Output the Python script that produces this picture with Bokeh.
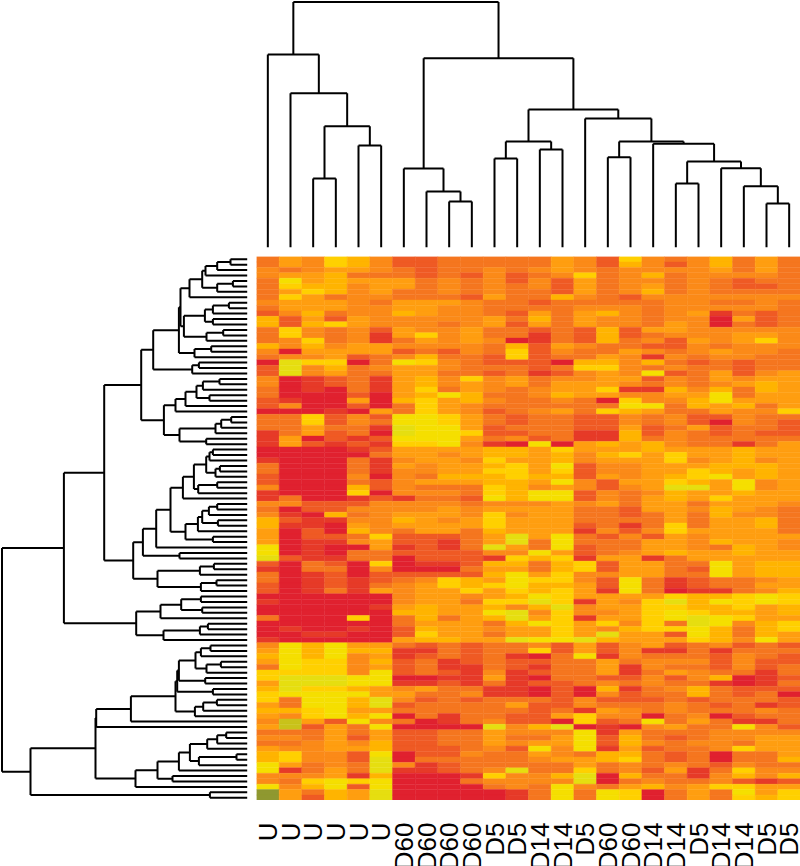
from math import pi
from bokeh.embed import file_html
from bokeh.resources import INLINE
from bokeh.plotting import figure
from bokeh.layouts import column, row
from bokeh.core.properties import value
from bokeh.models import Range1d, LinearColorMapper, ColumnDataSource, Spacer

COL_LABELS = ["U","U","U","U","U","U","D60","D60","D60","D60","D5","D5","D14","D14","D5","D60","D60","D14","D14","D5","D14","D14","D5","D5"]
LEVEL_COLORS = ["#E0212F","#E63A28","#EF5A24","#F5761F","#FB8A18","#FF9E10","#FFB400","#FFD000","#F5DF00","#E6DE10","#C9C21A","#8F9830"]

HEAT_1 = [
[3,5,4,7,6,4,2,2,3,3,3,3,3,5,4,2,7,4,3,4,6,3,5,3],
[3,5,4,7,6,4,2,2,3,3,3,3,3,5,4,2,6,4,2,4,6,3,5,3],
[4,3,4,5,5,4,3,2,3,3,4,3,4,5,4,3,4,4,4,4,5,3,5,3],
[4,5,5,6,3,3,3,2,3,2,4,2,3,4,7,3,4,6,3,4,4,4,4,3],
[3,8,5,6,5,5,5,3,4,3,4,2,4,2,5,3,4,4,3,4,3,2,3,3],
[3,7,6,6,4,5,5,3,4,3,4,3,4,2,5,3,4,5,3,4,3,2,2,3],
[3,5,7,6,4,5,3,3,4,3,4,3,3,2,5,3,4,6,3,4,3,3,3,3],
[3,7,5,3,4,4,3,3,3,2,5,3,3,6,4,3,2,4,4,4,4,4,4,4],
[4,5,5,5,4,3,5,5,5,4,3,3,2,3,3,3,3,3,4,4,3,3,4,3],
[3,5,5,5,4,4,5,5,4,4,3,3,3,3,4,4,4,3,4,4,4,4,4,3],
[2,4,6,3,4,4,6,5,4,4,3,2,5,3,5,6,4,3,4,5,1,3,2,3],
[6,2,5,2,5,4,4,4,4,4,5,3,6,3,5,4,4,3,4,4,0,5,2,3],
[6,2,6,7,5,4,4,4,3,4,5,2,5,3,5,4,4,3,5,4,0,3,2,3],
[3,7,4,3,4,2,5,4,4,5,3,3,2,3,2,6,2,5,5,4,4,4,4,4],
[3,7,4,3,4,1,5,7,4,5,3,3,1,3,2,6,2,3,4,4,4,5,5,4],
[3,4,7,3,4,1,3,5,4,5,4,0,1,3,2,6,3,4,2,5,4,5,7,4],
[6,4,6,4,5,5,4,4,4,4,3,6,2,5,4,3,3,2,2,4,3,4,4,4],
[4,0,5,5,5,5,2,3,2,4,3,7,2,4,3,3,5,4,3,4,5,4,4,3],
[3,4,4,5,2,3,4,6,3,3,2,7,2,3,3,5,4,1,4,3,4,4,3,3],
[0,9,7,7,0,3,8,7,4,3,2,2,2,0,6,6,4,6,3,2,3,2,3,3],
[2,9,4,6,3,4,5,5,4,3,3,3,2,3,7,7,4,3,4,3,3,2,3,3],
[2,9,4,5,3,3,5,5,3,3,2,3,1,2,4,5,4,8,2,3,5,2,4,5],
[4,0,1,2,3,1,5,6,4,7,4,5,3,4,4,5,5,2,4,3,5,4,5,5],
[4,0,1,2,3,1,5,6,4,5,4,5,3,5,5,5,4,3,4,3,4,5,6,5],
[3,0,1,0,3,1,5,7,3,5,4,3,4,5,5,7,1,1,6,4,6,3,6,5],
]
HEAT_2 = [
[3,0,0,0,2,0,5,6,8,6,3,3,4,6,5,5,4,4,5,5,8,3,5,5],
[2,1,0,0,5,0,6,7,5,6,4,3,3,4,3,0,7,4,4,6,8,5,5,5],
[2,4,0,0,2,0,3,7,5,4,3,3,3,3,3,3,8,8,3,6,5,6,3,5],
[0,0,0,1,0,5,3,7,5,4,2,3,4,5,3,7,6,5,3,3,5,4,4,7],
[3,3,7,2,4,2,8,8,7,5,3,2,3,3,2,2,4,3,4,2,2,4,3,3],
[3,3,7,2,4,3,8,8,7,5,3,2,3,3,2,2,4,3,4,2,0,4,3,2],
[3,3,5,3,3,1,9,8,8,5,2,3,3,3,2,2,5,2,3,5,2,3,3,2],
[1,3,5,2,3,0,9,8,8,7,2,2,3,3,1,1,6,2,4,3,2,3,2,2],
[1,5,0,2,1,2,8,8,8,5,3,4,2,3,1,1,6,3,4,3,3,3,3,3],
[1,5,2,1,2,1,7,7,8,4,1,0,8,0,5,6,5,6,4,3,3,1,3,5],
[0,0,0,0,1,2,5,5,5,5,6,6,5,7,5,5,5,6,5,5,5,6,5,5],
[0,0,0,0,0,3,5,5,4,5,6,6,5,6,4,6,7,5,7,5,5,6,5,5],
[1,0,0,0,3,1,4,5,5,4,7,5,5,6,4,5,5,5,7,4,5,6,4,5],
[3,0,0,0,3,1,5,4,5,5,6,7,5,8,2,4,4,5,5,5,6,6,6,5],
[3,0,0,0,3,1,4,4,5,5,7,7,5,7,2,4,4,5,5,7,6,5,6,5],
[2,0,0,0,4,0,4,3,6,6,6,7,6,6,2,5,4,5,6,7,8,5,6,5],
[2,0,0,0,3,2,4,5,5,5,6,6,5,8,4,2,5,5,7,6,5,8,4,5],
[4,0,0,0,6,2,4,3,3,3,7,6,4,5,4,2,4,5,9,9,5,8,4,5],
[1,0,0,0,7,0,4,4,4,3,7,6,8,8,2,4,3,4,6,5,5,6,5,5],
[1,3,0,0,1,2,1,3,3,2,8,6,8,8,2,4,3,5,6,5,7,5,5,5],
[4,4,2,2,2,4,4,4,4,3,4,4,4,5,4,5,3,5,5,3,5,5,5,4],
[3,0,2,2,4,4,4,4,5,4,5,5,5,5,3,3,2,5,5,4,6,5,4,3],
[4,1,0,6,3,4,5,5,5,4,7,4,5,5,3,3,2,3,5,3,6,4,4,3],
[6,2,1,1,4,4,6,5,4,5,7,5,5,5,3,3,3,3,5,3,5,5,6,3],
[6,1,1,0,5,4,5,5,5,5,7,5,5,5,2,3,1,3,7,3,5,5,6,3],
]
HEAT_3 = [
[5,0,2,0,6,4,3,5,5,3,6,5,5,5,1,4,2,4,7,5,5,5,5,3],
[5,0,2,2,3,7,2,2,2,3,5,9,5,8,3,2,4,2,5,4,5,5,5,5],
[5,0,1,1,4,5,2,2,1,3,5,9,3,8,3,3,3,5,5,4,6,5,5,4],
[8,0,1,0,0,5,1,2,1,3,9,5,3,8,2,3,3,5,5,4,3,6,5,4],
[8,0,1,0,3,3,2,2,2,2,4,4,8,5,2,3,4,5,6,5,5,6,5,5],
[9,2,1,1,3,3,0,2,2,2,1,7,6,7,1,5,5,1,3,5,5,5,5,5],
[2,0,3,2,0,7,0,1,1,2,6,6,3,6,7,2,5,5,3,3,8,5,6,6],
[1,0,3,3,0,4,0,0,0,3,5,5,3,6,7,2,5,5,3,2,8,5,6,6],
[3,0,1,2,0,2,2,2,2,2,6,8,5,7,4,4,5,5,3,3,8,5,6,6],
[3,0,1,2,1,2,3,4,7,6,5,8,7,7,4,2,8,3,1,2,3,3,4,5],
[2,0,1,2,1,3,4,5,7,6,7,8,6,6,5,2,8,3,1,2,3,3,5,5],
[2,0,1,3,1,5,4,5,5,7,5,7,6,7,5,1,8,3,0,1,1,3,4,6],
[0,0,0,0,0,0,4,5,5,4,5,6,8,7,5,5,5,5,7,6,6,7,8,7],
[1,0,0,0,0,0,4,5,5,3,7,7,9,7,1,5,4,7,9,6,8,7,8,7],
[0,0,0,0,0,1,5,6,5,5,6,4,6,9,4,5,5,7,7,6,6,7,5,6],
[0,0,0,0,0,0,6,6,5,5,8,9,4,7,4,4,5,7,8,7,6,6,5,6],
[3,0,0,0,7,0,3,6,3,5,6,9,5,7,1,5,5,7,8,9,8,7,5,5],
[0,0,0,0,0,0,3,5,5,5,3,6,8,7,5,7,4,7,3,9,8,4,6,7],
[0,1,0,0,1,0,2,6,5,5,4,5,5,7,5,4,6,7,7,8,6,3,6,7],
[0,0,1,1,0,0,2,7,5,5,3,5,5,7,5,9,5,5,2,8,6,3,6,5],
[1,0,0,0,0,0,5,6,6,5,5,9,8,8,9,6,5,5,5,7,6,4,8,5],
[4,8,6,8,5,5,3,2,3,2,3,3,4,2,5,2,4,5,2,3,4,2,3,2],
[5,8,6,8,6,6,1,1,3,2,3,3,7,2,5,2,4,1,1,3,1,3,3,3],
[6,8,6,8,4,5,1,2,3,2,3,1,0,3,8,1,4,3,3,3,2,4,3,2],
[5,8,7,7,4,6,2,3,1,2,3,2,2,3,3,5,3,4,4,4,2,4,2,2],
]
HEAT_4 = [
[3,8,7,7,4,5,2,3,1,1,3,2,1,3,3,5,1,4,3,3,2,4,2,3],
[7,7,7,7,4,8,2,3,2,1,4,1,2,3,3,5,1,3,5,4,3,3,1,3],
[7,9,9,9,8,8,0,0,1,1,5,1,0,3,3,2,2,4,2,4,6,0,1,2],
[5,9,9,9,8,8,1,1,2,1,3,1,2,2,3,4,3,4,3,3,1,0,1,3],
[6,9,7,7,6,5,4,5,3,3,1,1,0,2,0,6,1,3,4,6,3,2,2,2],
[7,8,8,8,8,5,5,3,3,4,1,1,0,2,0,4,2,3,3,6,3,2,3,0],
[7,3,8,8,6,9,4,2,3,2,3,3,3,2,4,2,2,2,3,2,3,3,3,2],
[5,3,8,8,6,9,2,3,3,3,3,5,2,2,4,3,3,3,4,3,2,3,1,2],
[6,6,7,8,5,5,3,3,3,3,3,3,2,3,1,5,4,3,4,3,3,3,4,3],
[5,4,7,8,6,8,0,3,1,3,3,2,2,5,7,4,4,0,3,4,0,2,3,3],
[4,10,5,2,8,4,3,0,1,3,4,2,2,0,7,2,3,8,3,5,3,1,1,3],
[5,10,2,5,3,8,0,0,0,0,9,4,6,9,0,1,0,4,5,3,3,8,4,2],
[3,3,3,5,3,5,2,2,3,3,5,4,4,4,8,1,5,3,3,3,4,4,4,4],
[4,4,3,5,2,5,2,2,3,3,5,3,3,5,8,2,6,3,2,3,4,4,5,5],
[3,3,4,5,4,6,2,2,3,3,5,4,5,5,8,2,6,4,3,4,4,3,5,5],
[5,4,4,5,5,6,2,2,2,3,4,2,8,4,8,1,5,2,3,3,4,7,5,5],
[6,7,4,4,2,8,0,2,2,4,3,3,5,4,3,6,6,3,2,3,0,3,3,5],
[6,7,4,4,2,9,0,3,3,3,3,3,4,5,5,6,7,3,2,3,0,3,3,6],
[8,5,3,4,3,9,4,1,2,3,3,3,3,3,5,3,4,3,4,3,2,4,3,3],
[8,1,3,5,3,9,1,1,2,3,4,9,3,3,7,3,4,2,5,1,3,7,4,4],
[4,4,4,5,1,6,0,0,0,1,7,4,4,6,9,0,6,3,3,1,4,6,4,6],
[4,3,7,8,7,8,0,0,0,3,4,4,4,4,9,0,3,4,3,3,4,2,1,2],
[8,4,6,8,2,8,0,0,0,0,3,4,3,8,4,3,5,6,4,5,7,7,5,5],
[11,5,3,6,5,9,0,0,0,0,0,1,3,8,3,8,7,0,3,5,3,8,5,7],
[11,5,2,6,5,9,0,0,0,0,0,1,3,8,3,8,7,0,3,5,3,7,6,7],
]

# Dendrograms: (node, child, child, height); integer children are leaves.
COL_MERGES = [
("c1",2,3,68.7),("c2",4,5,101.7),("c3","c1","c2",121),("c4",1,"c3",154),("c5",0,"c4",192.7),
("c6",8,9,45.7),("c7",7,"c6",55.7),("c8",6,"c7",78.7),
("c9",10,11,88.7),("c10",12,13,97.7),("c11","c9","c10",105.7),
("c12",15,16,90),("c13",18,19,63.7),("c14",22,23,43.7),("c15",21,"c14",61),("c16",20,"c15",79),
("c17","c13","c16",85.7),("c18",17,"c17",103.4),("c19","c12","c18",105.7),("c20",14,"c19",128.7),
("c21","c11","c20",137.7),("c22","c8","c21",189),("c23","c5","c22",245.2),
]
ROW_MERGES = [
("r1",0,1,16.7),("r2","r1",2,30),("r3","r2",3,41.7),("r4",4,5,14.3),("r5","r4",6,30),("r6","r3","r5",45),("r7","r6",7,57.7),
("r8",8,9,18.3),("r9","r8",10,34.3),("r10",11,12,34.3),("r11","r9","r10",42.3),("r12",13,14,24),("r13","r12",15,40.7),("r14","r11","r13",63.3),
("r15","r7","r14",66.7),("r16",16,17,36),("r17","r16",18,52.7),("r18","r15","r17",68.3),
("r19",19,20,48.3),("r20","r19",21,55),("r21","r18","r20",94),
("r22",22,23,27.7),("r23","r22",24,44.3),("r24",25,26,37.7),("r25","r23","r24",50.7),("r26","r25",27,61.7),("r27","r26",28,71.7),
("r28",29,30,16),("r29","r28",31,26),("r30","r29",32,31.7),("r31",33,34,41),("r32","r30","r31",67.7),("r33","r27","r32",83.3),
("r34","r21","r33",106),
("r35",35,36,34.3),("r36","r35",37,37.7),("r37",38,39,27.3),("r38","r37",40,31.7),("r39","r36","r38",41),("r40",41,42,30),("r41","r40",43,49),
("r42","r39","r41",53.3),("r43","r42",44,64.3),
("r44",45,46,30),("r45","r44",47,38.3),("r46",48,49,29.3),("r47","r45","r46",45),("r48","r47",50,49.3),("r49",51,52,34.3),("r50","r48","r49",61.7),
("r51","r43","r50",76.7),("r52","r51",53,91),("r53",54,55,67.7),("r54","r52","r53",104.3),
("r55",56,57,33.3),("r56","r55",58,47.3),("r57",59,60,30.7),("r58","r57",61,46.3),("r59","r56","r58",89.7),("r60","r54","r59",114),
("r61","r34","r60",143),
("r62",62,63,46.3),("r63",64,65,45),("r64","r62","r63",66),("r65","r64",66,86.7),("r66",67,68,39.3),("r67","r66",69,47.3),("r68","r67",70,83.7),("r69","r65","r68",111),
("r70","r61","r69",183.3),
("r71",71,72,36.7),("r72","r71",73,46.3),("r73",74,75,26.3),("r74","r73",76,40.7),("r75","r72","r74",51.7),("r76",77,78,42),("r77","r75","r76",68.3),
("r78",79,80,34.3),("r79","r77","r78",70),("r80",81,82,30.3),("r81","r80",83,44),("r82","r81",84,52.3),("r83","r79","r82",71.7),("r84","r83",85,116.3),("r85","r84",86,151),
("r86",87,88,21),("r87","r86",89,30),("r88","r87",90,40),("r89",91,92,10.7),("r90","r89",93,48.3),("r91","r88","r90",57.3),("r92","r91",94,68.3),("r93",95,96,74.7),("r94","r92","r93",89.7),("r95","r94",97,111.7),
("r96","r85","r95",151.7),("r97",98,99,37.3),("r98","r96","r97",216.7),("r99","r70","r98",245.2),
]

def tree_segments(merges):
    pos, h = {}, {}
    a0, a1, h0, h1 = [], [], [], []
    def place(c):
        if isinstance(c, int):
            return c + 0.5, 0.0
        return pos[c], h[c]
    for name, l, r, height in merges:
        pl, hl = place(l)
        pr, hr = place(r)
        pos[name] = (pl + pr) / 2
        h[name] = height
        a0 += [pl, pl, pr]
        a1 += [pl, pr, pr]
        h0 += [hl, height, hr]
        h1 += [height, height, height]
    return a0, a1, h0, h1

HEAT = HEAT_1 + HEAT_2 + HEAT_3 + HEAT_4
n_rows, n_cols = len(HEAT), len(COL_LABELS)

lv, left_e, right_e, top_e, bot_e = [], [], [], [], []
for i, vals in enumerate(HEAT):
    for j, v in enumerate(vals):
        lv.append(v); left_e.append(j); right_e.append(j + 1); top_e.append(i); bot_e.append(i + 1)
src = ColumnDataSource(dict(level=lv, left=left_e, right=right_e, top=top_e, bottom=bot_e))
mapper = LinearColorMapper(palette=LEVEL_COLORS, low=-0.5, high=11.5)

def base(**kw):
    f = figure(output_backend="svg", toolbar_location=None, min_border=0, tools="",
               x_axis_location=None, y_axis_location=None, **kw)
    f.outline_line_color = None
    f.grid.visible = False
    return f

HEIGHT_MIN, HEIGHT_MAX = -9.3, 246.7

heat = base(width=544, height=544, x_range=Range1d(0, n_cols), y_range=Range1d(n_rows, 0))
heat.quad(left="left", right="right", top="top", bottom="bottom", source=src,
          fill_color={"field": "level", "transform": mapper},
          line_color={"field": "level", "transform": mapper}, line_width=0.4)

top = base(width=544, height=256, x_range=Range1d(0, n_cols), y_range=Range1d(HEIGHT_MIN, HEIGHT_MAX))
a0, a1, h0, h1 = tree_segments(COL_MERGES)
top.segment(x0=a0, x1=a1, y0=h0, y1=h1, line_color="#000000", line_width=2)

left = base(width=256, height=544, x_range=Range1d(HEIGHT_MAX, HEIGHT_MIN), y_range=Range1d(n_rows, 0))
a0, a1, h0, h1 = tree_segments(ROW_MERGES)
left.segment(x0=h0, x1=h1, y0=a0, y1=a1, line_color="#000000", line_width=2)

labels = base(width=544, height=66, x_range=Range1d(0, n_cols), y_range=Range1d(66, 0))
labels.text(x=[j + 0.5 for j in range(n_cols)], y=[22] * n_cols, text=COL_LABELS, angle=pi / 2,
            text_align="right", text_baseline="middle", text_color="#000000",
            text_font=value("Liberation Sans"), text_font_size="26px")

page = column(row(Spacer(width=256, height=256), top, spacing=0),
              row(left, heat, spacing=0),
              row(Spacer(width=256, height=66), labels, spacing=0), spacing=0)

open("out.html", "w").write(file_html(page, INLINE))
